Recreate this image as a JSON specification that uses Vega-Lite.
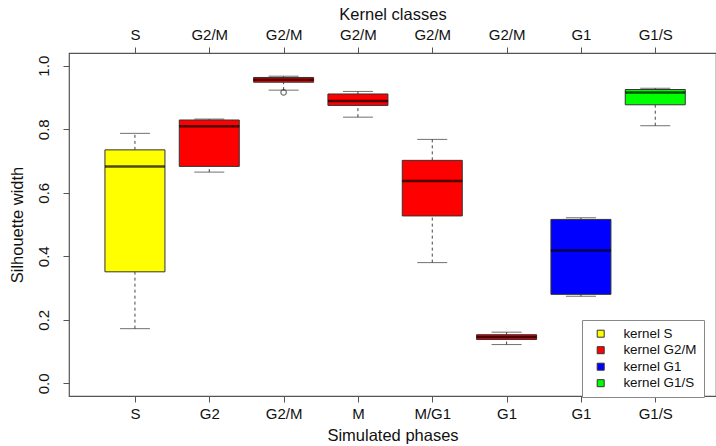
{
  "$schema": "https://vega.github.io/schema/vega-lite/v6.json",
  "width": 647,
  "height": 343,
  "autosize": {"type": "none"},
  "padding": {"left": 69, "top": 53, "right": 0, "bottom": 50},
  "config": {
    "font": "Liberation Sans",
    "view": {"stroke": "#555555", "strokeWidth": 1.2},
    "axis": {"grid": false, "domain": false, "tickColor": "#555555", "tickSize": 6, "labelColor": "#111111", "titleColor": "#111111", "labelFont": "Liberation Sans", "titleFont": "Liberation Sans", "titleFontWeight": "normal"}
  },
  "datasets": {
    "boxes": [
      {"pos": 1, "phase": "S", "kernel": "S", "lower": 0.172, "q1": 0.351, "median": 0.683, "q3": 0.735, "upper": 0.787},
      {"pos": 2, "phase": "G2", "kernel": "G2/M", "lower": 0.665, "q1": 0.683, "median": 0.809, "q3": 0.829, "upper": 0.832},
      {"pos": 3, "phase": "G2/M", "kernel": "G2/M", "lower": 0.923, "q1": 0.948, "median": 0.956, "q3": 0.963, "upper": 0.967},
      {"pos": 4, "phase": "M", "kernel": "G2/M", "lower": 0.838, "q1": 0.875, "median": 0.889, "q3": 0.911, "upper": 0.919},
      {"pos": 5, "phase": "M/G1", "kernel": "G2/M", "lower": 0.38, "q1": 0.527, "median": 0.637, "q3": 0.702, "upper": 0.768},
      {"pos": 6, "phase": "G1", "kernel": "G2/M", "lower": 0.122, "q1": 0.138, "median": 0.146, "q3": 0.153, "upper": 0.161},
      {"pos": 7, "phase": "G1", "kernel": "G1", "lower": 0.274, "q1": 0.28, "median": 0.418, "q3": 0.516, "upper": 0.521},
      {"pos": 8, "phase": "G1/S", "kernel": "G1/S", "lower": 0.811, "q1": 0.877, "median": 0.916, "q3": 0.925, "upper": 0.929}
    ],
    "outliers": [
      {"pos": 3, "value": 0.916}
    ]
  },
  "data": {"name": "boxes"},
  "resolve": {"axis": {"x": "independent"}},
  "layer": [
    {
      "mark": {"type": "rule", "strokeDash": [3, 3], "color": "#444444", "strokeWidth": 1},
      "encoding": {
        "x": {"field": "pos", "type": "quantitative", "scale": {"domain": [0.18, 8.75], "nice": false, "zero": false},
          "axis": {"orient": "bottom", "values": [1, 2, 3, 4, 5, 6, 7, 8], "labelExpr": "['','S','G2','G2/M','M','M/G1','G1','G1','G1/S'][datum.value]", "labelFontSize": 15, "labelPadding": 4, "title": "Simulated phases", "titleFontSize": 16.5, "titlePadding": 6}},
        "y": {"field": "lower", "type": "quantitative", "title": "Silhouette width", "scale": {"domain": [-0.04, 1.04], "nice": false, "zero": false},
          "axis": {"values": [0, 0.2, 0.4, 0.6, 0.8, 1.0], "format": ".1f", "labelAngle": 270, "labelAlign": "center", "labelBaseline": "bottom", "labelFontSize": 15, "labelPadding": 12, "title": "Silhouette width", "titleFontSize": 16.5, "titlePadding": 11}},
        "y2": {"field": "q1"}
      }
    },
    {
      "mark": {"type": "rule", "strokeDash": [3, 3], "color": "#444444", "strokeWidth": 1},
      "encoding": {
        "x": {"field": "pos", "type": "quantitative", "axis": null},
        "y": {"field": "q3", "type": "quantitative", "title": "Silhouette width"},
        "y2": {"field": "upper"}
      }
    },
    {
      "mark": {"type": "tick", "orient": "horizontal", "size": 30, "thickness": 1, "color": "#333333"},
      "encoding": {
        "x": {"field": "pos", "type": "quantitative", "axis": null},
        "y": {"field": "lower", "type": "quantitative", "title": "Silhouette width"}
      }
    },
    {
      "mark": {"type": "tick", "orient": "horizontal", "size": 30, "thickness": 1, "color": "#333333"},
      "encoding": {
        "x": {"field": "pos", "type": "quantitative", "axis": null},
        "y": {"field": "upper", "type": "quantitative", "title": "Silhouette width"}
      }
    },
    {
      "mark": {"type": "bar", "width": 60, "stroke": "#333333", "strokeWidth": 1},
      "encoding": {
        "x": {"field": "pos", "type": "quantitative", "axis": null},
        "y": {"field": "q1", "type": "quantitative", "title": "Silhouette width"},
        "y2": {"field": "q3"},
        "color": {"field": "kernel", "type": "nominal",
          "scale": {"domain": ["S", "G2/M", "G1", "G1/S"], "range": ["#FFFF00", "#FF0000", "#0000FF", "#00FF00"]},
          "legend": {"orient": "none", "legendX": 513, "legendY": 267, "title": null, "labelExpr": "'kernel ' + datum.label",
            "strokeColor": "#888888", "fillColor": "#ffffff", "padding": 7, "symbolType": "square", "symbolSize": 49,
            "symbolStrokeColor": "#333333", "symbolStrokeWidth": 1, "symbolOffset": 5, "labelOffset": 16, "labelFontSize": 13.4,
            "labelColor": "#111111", "rowPadding": 1.5}}
      }
    },
    {
      "mark": {"type": "tick", "orient": "horizontal", "size": 60, "thickness": 2.5, "color": "#000000"},
      "encoding": {
        "x": {"field": "pos", "type": "quantitative",
          "axis": {"orient": "top", "values": [1, 2, 3, 4, 5, 6, 7, 8], "labelExpr": "['','S','G2/M','G2/M','G2/M','G2/M','G2/M','G1','G1/S'][datum.value]", "labelFontSize": 15, "labelPadding": 5, "title": "Kernel classes", "titleFontSize": 16.5, "titlePadding": 5}},
        "y": {"field": "median", "type": "quantitative", "title": "Silhouette width"}
      }
    },
    {
      "data": {"name": "outliers"},
      "mark": {"type": "point", "shape": "circle", "filled": false, "size": 30, "stroke": "#333333", "strokeWidth": 1.2},
      "encoding": {
        "x": {"field": "pos", "type": "quantitative", "axis": null},
        "y": {"field": "value", "type": "quantitative", "title": "Silhouette width"}
      }
    }
  ]
}
